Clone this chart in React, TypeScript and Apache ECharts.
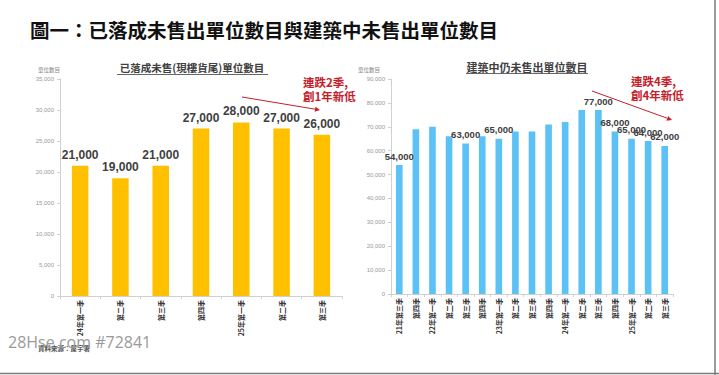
import React, { useEffect, useRef } from "react";
import * as echarts from "echarts";

const leftCategories = ["24年第一季", "第二季", "第三季", "第四季", "25年第一季", "第二季", "第三季"];
const leftValues = [21000, 19000, 21000, 27000, 28000, 27000, 26000];

const rightCategories = [
  "21年第三季", "第四季",
  "22年第一季", "第二季", "第三季", "第四季",
  "23年第一季", "第二季", "第三季", "第四季",
  "24年第一季", "第二季", "第三季", "第四季",
  "25年第一季", "第二季", "第三季",
];
const rightValues = [54000, 69000, 70000, 66000, 63000, 66000, 65000, 68000, 68000, 71000, 72000, 77000, 77000, 68000, 65000, 64000, 62000];
const rightLabeledIdx = [0, 4, 6, 12, 13, 14, 15, 16];

const leftYTicks = { min: 0, max: 35000, interval: 5000 };
const rightYTicks = { min: 0, max: 90000, interval: 10000 };

const mainTitle = "圖一：已落成未售出單位數目與建築中未售出單位數目";
const leftTitle = "已落成未售(現樓貨尾)單位數目";
const rightTitle = "建築中仍未售出單位數目";
const leftNote = "連跌2季,\n創1年新低";
const rightNote = "連跌4季,\n創4年新低";
const yName = "單位數目";
const sourceText = "資料來源：屋宇署";
const watermark = "28Hse.com #72841";

const CJK = '"Noto Sans CJK TC", "Noto Sans", sans-serif';
const RED = "#C4202A";
const fmt = (v: number) => v.toLocaleString("en-US");

function arrow(x1: number, y1: number, x2: number, y2: number) {
  const dx = x2 - x1, dy = y2 - y1;
  const len = Math.sqrt(dx * dx + dy * dy);
  const ux = dx / len, uy = dy / len;
  const s = 5, w = 2.5;
  const bx = x2 - ux * s, by = y2 - uy * s;
  return [
    { type: "line", shape: { x1, y1, x2: bx, y2: by }, style: { stroke: RED, lineWidth: 1 } },
    {
      type: "polygon",
      shape: { points: [[x2, y2], [bx - uy * w, by + ux * w], [bx + uy * w, by - ux * w]] },
      style: { fill: RED },
    },
  ];
}

export default function App() {
  const ref = useRef<HTMLDivElement>(null);
  useEffect(() => {
    if (!ref.current) return;
    const chart = echarts.init(ref.current, null, { renderer: "svg" });
    const axisLine = { show: true, lineStyle: { color: "#D0D0D0", width: 1 } };
    const yLabel = { fontSize: 6, color: "#999", fontFamily: "Liberation Sans, sans-serif", margin: 6, formatter: (v: number) => fmt(v) };
    const xLabel = { fontSize: 7, color: "#333", fontWeight: "bold", fontFamily: CJK, rotate: 90, margin: 4, interval: 0 };
    chart.setOption({
      animation: false,
      backgroundColor: "#ffffff",
      grid: [
        { left: 60, top: 79, width: 282, height: 217 },
        { left: 391, top: 79, width: 282, height: 215 },
      ],
      xAxis: [
        {
          type: "category", gridIndex: 0, data: leftCategories,
          axisLine, axisTick: { show: true, length: 3, lineStyle: { color: "#D0D0D0" } },
          axisLabel: xLabel,
        },
        {
          type: "category", gridIndex: 1, data: rightCategories,
          axisLine, axisTick: { show: true, length: 3, lineStyle: { color: "#D0D0D0" } },
          axisLabel: xLabel,
        },
      ],
      yAxis: [
        {
          type: "value", gridIndex: 0, ...leftYTicks,
          axisLine, axisTick: { show: true, length: 3, lineStyle: { color: "#D0D0D0" } },
          splitLine: { show: false }, axisLabel: yLabel,
        },
        {
          type: "value", gridIndex: 1, ...rightYTicks,
          axisLine, axisTick: { show: true, length: 3, lineStyle: { color: "#D0D0D0" } },
          splitLine: { show: false }, axisLabel: yLabel,
        },
      ],
      series: [
        {
          type: "bar", xAxisIndex: 0, yAxisIndex: 0, data: leftValues,
          barWidth: "41%", itemStyle: { color: "#FFC000" },
          label: {
            show: true, position: "top", distance: 5, fontSize: 12, fontWeight: "bold",
            color: "#404040", fontFamily: "Liberation Sans, sans-serif",
            formatter: (p: any) => fmt(p.value),
          },
        },
        {
          type: "bar", xAxisIndex: 1, yAxisIndex: 1,
          data: rightValues.map((v, i) => ({
            value: v,
            label: { show: rightLabeledIdx.includes(i) },
          })),
          barWidth: "40%", itemStyle: { color: "#5CC1F4" },
          label: {
            show: false, position: "top", distance: 4, fontSize: 9.5, fontWeight: "bold",
            color: "#404040", fontFamily: "Liberation Sans, sans-serif",
            formatter: (p: any) => fmt(p.value),
          },
        },
      ],
      graphic: [
        {
          type: "text", left: 30, top: 20,
          style: { text: mainTitle, font: `bold 19.5px ${CJK}`, fill: "#111" },
        },
        {
          type: "text", x: 192, y: 67,
          style: { text: leftTitle, font: `bold 10.5px ${CJK}`, fill: "#404040", align: "center", verticalAlign: "middle" },
        },
        { type: "line", shape: { x1: 117, y1: 74.5, x2: 268, y2: 74.5 }, style: { stroke: "#404040", lineWidth: 0.8 } },
        {
          type: "text", x: 527, y: 66.5,
          style: { text: rightTitle, font: `bold 11px ${CJK}`, fill: "#404040", align: "center", verticalAlign: "middle" },
        },
        { type: "line", shape: { x1: 466, y1: 73.5, x2: 588, y2: 73.5 }, style: { stroke: "#404040", lineWidth: 0.8 } },
        {
          type: "text", x: 49, y: 70,
          style: { text: yName, font: `5.5px ${CJK}`, fill: "#888", align: "center", verticalAlign: "middle" },
        },
        {
          type: "text", x: 369, y: 70,
          style: { text: yName, font: `5.5px ${CJK}`, fill: "#888", align: "center", verticalAlign: "middle" },
        },
        {
          type: "text", x: 303, y: 75,
          style: { text: leftNote, font: `bold 11.5px ${CJK}`, fill: RED, lineHeight: 14 },
        },
        {
          type: "text", x: 631, y: 74,
          style: { text: rightNote, font: `bold 11.5px ${CJK}`, fill: RED, lineHeight: 14 },
        },
        ...arrow(242, 97, 320, 110),
        ...arrow(592, 91, 672, 120),
        {
          type: "text", x: 38, y: 348,
          style: { text: sourceText, font: `bold 6.5px ${CJK}`, fill: "#555", verticalAlign: "middle" },
        },
        {
          type: "text", x: 8, y: 342,
          style: { text: watermark, font: `16px "Open Sans", sans-serif`, fill: "#9A9A9A", verticalAlign: "middle" },
        },
        { type: "line", shape: { x1: 715, y1: 0, x2: 715, y2: 375 }, style: { stroke: "#7A7A7A", lineWidth: 1.5 } },
        { type: "line", shape: { x1: 0, y1: 373.5, x2: 719, y2: 373.5 }, style: { stroke: "#7A7A7A", lineWidth: 1.5 } },
      ],
    });
    return () => chart.dispose();
  }, []);
  return <div ref={ref} style={{ position: "absolute", left: 0, top: 0, width: 719, height: 375 }} />;
}
